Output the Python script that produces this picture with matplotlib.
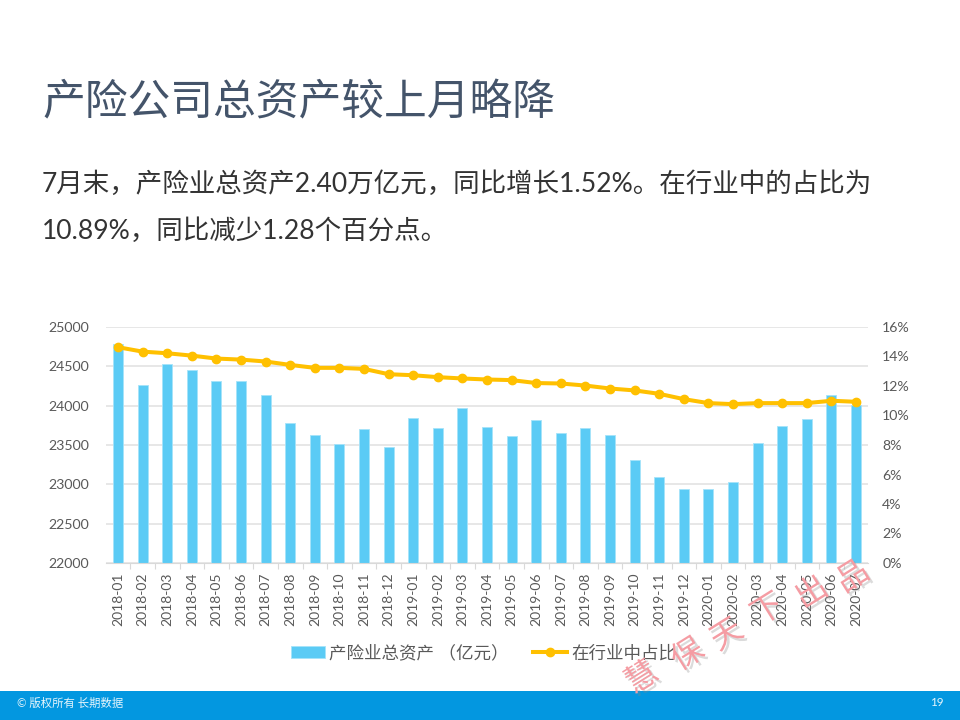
#!/usr/bin/env python3

import matplotlib
matplotlib.use("Agg")
import matplotlib.pyplot as plt
import matplotlib.patheffects as pe
from matplotlib.patches import Rectangle
import numpy as np

plt.rcParams['font.family'] = ['Lato', 'Noto Sans CJK SC', 'DejaVu Sans']

months = ["2018-01", "2018-02", "2018-03", "2018-04", "2018-05", "2018-06", "2018-07", "2018-08",
          "2018-09", "2018-10", "2018-11", "2018-12", "2019-01", "2019-02", "2019-03", "2019-04",
          "2019-05", "2019-06", "2019-07", "2019-08", "2019-09", "2019-10", "2019-11", "2019-12",
          "2020-01", "2020-02", "2020-03", "2020-04", "2020-05", "2020-06", "2020-07"]
assets = [24789, 24265, 24527, 24459, 24315, 24315, 24130, 23775,
          23622, 23517, 23699, 23475, 23842, 23711, 23965, 23724,
          23620, 23820, 23656, 23711, 23622, 23306, 23094, 22938,
          22938, 23027, 23530, 23741, 23830, 24130, 24011]
share = [14.63, 14.33, 14.22, 14.06, 13.86, 13.79, 13.66, 13.43,
         13.23, 13.23, 13.16, 12.80, 12.73, 12.60, 12.51, 12.44,
         12.40, 12.20, 12.17, 12.03, 11.83, 11.70, 11.47, 11.11,
         10.84, 10.77, 10.84, 10.84, 10.84, 11.00, 10.93]
left_ticks = [22000, 22500, 23000, 23500, 24000, 24500, 25000]
right_ticks = [0, 2, 4, 6, 8, 10, 12, 14, 16]

title = "产险公司总资产较上月略降"
body_1 = "7月末，产险业总资产2.40万亿元，同比增长1.52%。在行业中的占比为"
body_2 = "10.89%，同比减少1.28个百分点。"
watermark = ["慧", "保", "天", "下", "出", "品"]
watermark_xy = [(642, 678), (688, 655), (727, 635), (768, 610), (812, 593), (853, 577)]

W, H = 960, 720
TEXT = "#595959"


def fx(px):
    return px / W


def fy(py):
    return 1 - py / H


fig = plt.figure(figsize=(9.6, 7.2), dpi=100, facecolor="white")

# footer bar
fig.add_artist(Rectangle((0, 0), 1, fy(691), transform=fig.transFigure, color="#0397E0", lw=0))
fig.text(fx(17), fy(703), "© 版权所有 长期数据", color="#E6F5FC", fontsize=8.2, va="center")
fig.text(fx(937), fy(703), "19", color="#E6F5FC", fontsize=8.4, va="center", ha="center")

fig.text(fx(42), fy(102), title, color="#44546A", fontsize=30.8, va="center")
fig.text(fx(42), fy(184), body_1, color="#333333", fontsize=19.1, va="center")
fig.text(fx(42), fy(231), body_2, color="#333333", fontsize=19.1, va="center")

ax = fig.add_axes([fx(105.7), fy(563), fx(762.6), (563 - 327) / H])
x = np.arange(len(months))
bars = ax.bar(x, assets, width=0.41, color="#5BCBF5", edgecolor="#A5E3FA", lw=0.6,
              label="产险业总资产 （亿元）", zorder=2)
ax.set_xlim(-0.5, len(months) - 0.5)
ax.set_ylim(22000, 25000)
ax.set_yticks(left_ticks)
ax.tick_params(axis="y", length=0, labelsize=10.2, labelcolor=TEXT, pad=12)
ax.set_xticks(x)
ax.set_xticklabels(months, rotation=90)
ax.tick_params(axis="x", which="major", length=0, labelsize=10, labelcolor=TEXT, pad=7)
ax.set_xticks(x[:-1] + 0.5, minor=True)
ax.tick_params(axis="x", which="minor", length=4, color="#D9D9D9", width=0.8)
ax.grid(axis="y", color="#E0E0E0", lw=1.1, zorder=0)
ax.set_axisbelow(True)
for side in ["top", "left", "right"]:
    ax.spines[side].set_visible(False)
ax.spines["bottom"].set_color("#D9D9D9")

ax2 = ax.twinx()
line, = ax2.plot(x, share, color="#FFC000", lw=2.9, marker="o", ms=6, label="在行业中占比", zorder=3)
ax2.set_ylim(0, 16)
ax2.set_yticks(right_ticks)
ax2.set_yticklabels([f"{v}%" for v in right_ticks])
ax2.tick_params(axis="y", length=0, labelsize=10.2, labelcolor=TEXT, pad=10)
for side in ["top", "left", "right", "bottom"]:
    ax2.spines[side].set_visible(False)

fig.legend(handles=[bars, line], loc="center", bbox_to_anchor=(fx(483.5), fy(653)), ncol=2, frameon=False,
           fontsize=12.6, labelcolor=TEXT, handlelength=1.95, handleheight=0.65, handletextpad=0.25,
           columnspacing=1.4, borderpad=0)

# watermark, one character at a time
for ch, (px, py) in zip(watermark, watermark_xy):
    fig.text(fx(px), fy(py), ch, color="#F59CA3", fontsize=23, rotation=32, ha="center", va="center",
             path_effects=[pe.SimplePatchShadow(offset=(2, -2), shadow_rgbFace="#888888", alpha=0.3),
                           pe.Normal()], zorder=10)

fig.savefig("out.png", dpi=100)
